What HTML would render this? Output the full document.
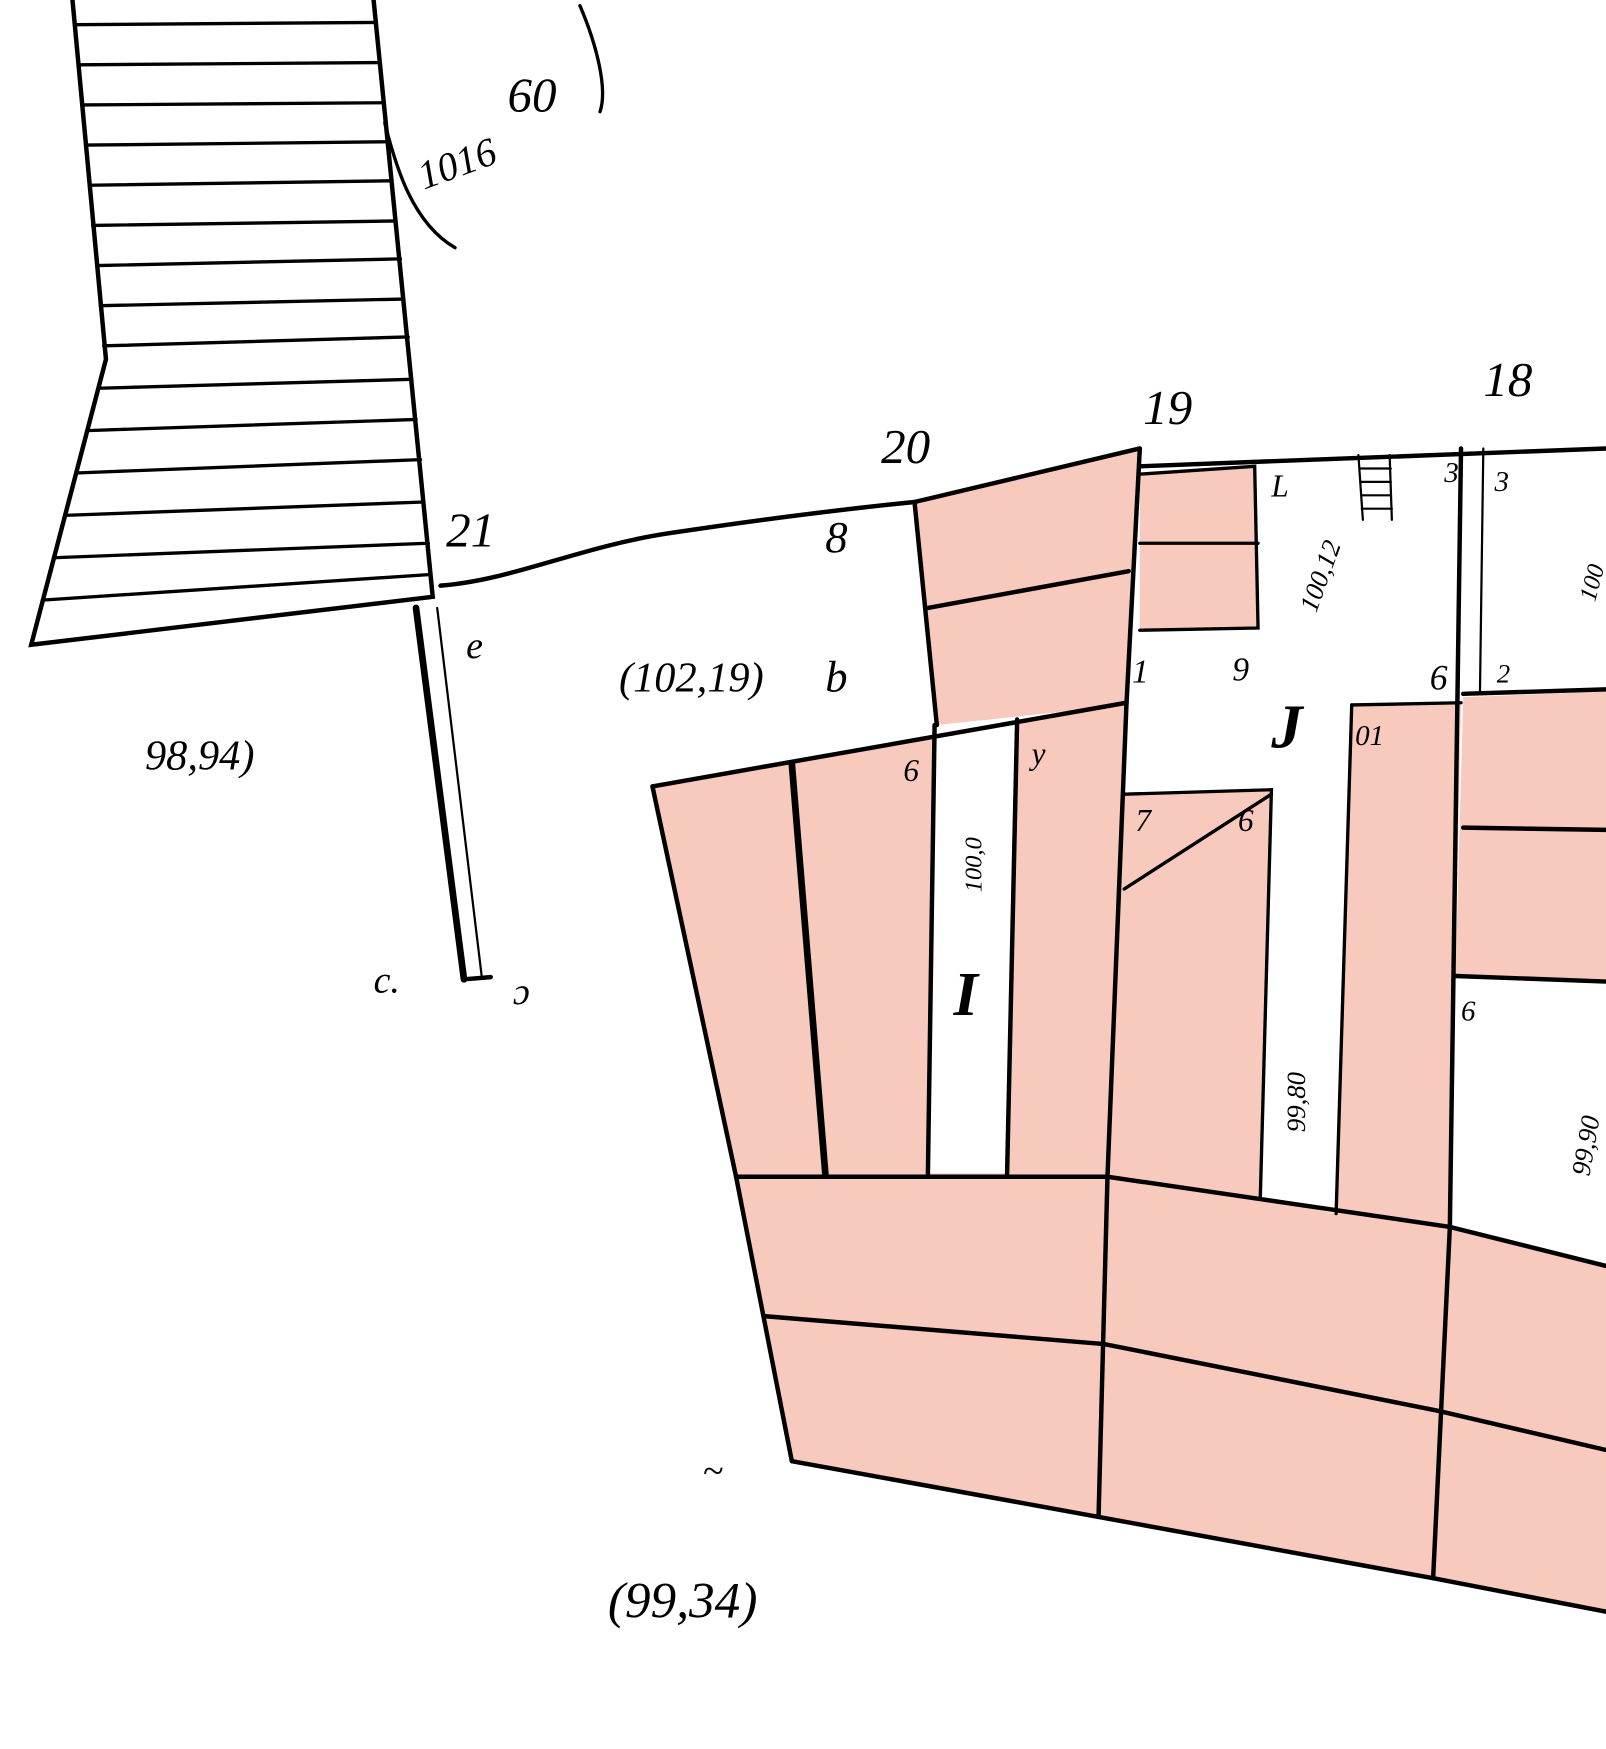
<!DOCTYPE html>
<html><head><meta charset="utf-8"><style>html,body{margin:0;padding:0;background:#fff}svg{display:block}text{font-family:"Liberation Serif",serif;font-style:italic;fill:#000}</style></head><body>
<svg width="1606" height="1749" viewBox="0 0 1440 1568" xmlns="http://www.w3.org/2000/svg">
<rect width="1440" height="1568" fill="#fff"/>
<g fill="#f7cabd" stroke="none">
<polygon points="820,450 1022,402 1010,632 840,650"/>
<polygon points="585,705 1010,630 993,1055 660,1055"/>
<polygon points="1022,425 1125,418 1128,563 1022,565"/>
<polygon points="1008,712 1140,708 1130,1075 993,1055"/>
<polygon points="1212,632 1310,630 1300,1100 1198,1088"/>
<polygon points="1312,625 1440,620 1440,880 1305,875"/>
<polygon points="660,1055 993,1055 1130,1075 1300,1100 1440,1135 1440,1445 1285,1415 985,1360 710,1310"/>
</g>
<g fill="#fff">
<polygon points="838,650 912,645 903,1052 832,1052"/>
<polygon points="1140,708 1205,632 1212,632 1198,1088 1130,1075"/>
</g>
<g stroke="#000" stroke-width="4" fill="none" stroke-linecap="round">
<polyline points="65,0 95,322 28,578 388,535 335,0"/>
<g stroke-width="3">
<line x1="68" y1="22" x2="337" y2="20"/><line x1="71" y1="58" x2="341" y2="56"/><line x1="74" y1="94" x2="344" y2="92"/><line x1="77" y1="130" x2="348" y2="127"/><line x1="80" y1="166" x2="351" y2="162"/><line x1="83" y1="202" x2="355" y2="198"/><line x1="87" y1="238" x2="359" y2="232"/><line x1="90" y1="274" x2="362" y2="268"/><line x1="93" y1="310" x2="366" y2="302"/><line x1="88" y1="348" x2="369" y2="340"/><line x1="78" y1="386" x2="373" y2="376"/><line x1="68" y1="424" x2="377" y2="412"/><line x1="58" y1="462" x2="380" y2="450"/><line x1="48" y1="500" x2="384" y2="487"/><line x1="38" y1="538" x2="386" y2="515"/>
</g>
<line x1="373" y1="545" x2="416" y2="878" stroke-width="6"/>
<line x1="392" y1="545" x2="432" y2="876" stroke-width="2"/>
<line x1="416" y1="878" x2="440" y2="876"/>
<path d="M395,525 C460,520 520,490 600,478 C680,466 760,456 820,450"/>
<line x1="820" y1="450" x2="1022" y2="402"/>
<line x1="1022" y1="418" x2="1440" y2="402"/>
<polyline points="820,450 840,650"/>
<line x1="832" y1="545" x2="1012" y2="512"/>
<polyline points="1022,402 1010,632 993,1055 985,1360"/>
<line x1="585" y1="705" x2="1010" y2="630"/>
<polyline points="585,705 660,1055 710,1310"/>
<line x1="710" y1="685" x2="740" y2="1052" stroke-width="6"/>
<line x1="838" y1="650" x2="832" y2="1052"/>
<line x1="912" y1="645" x2="903" y2="1052"/>
<polyline points="660,1055 993,1055 1130,1075 1300,1100 1440,1135"/>
<polyline points="685,1180 990,1205 1290,1265 1440,1300"/>
<polyline points="710,1310 985,1360 1285,1415 1440,1445"/>
<polyline points="1310,402 1300,1100 1285,1415"/>
<line x1="1330" y1="402" x2="1327" y2="620" stroke-width="2"/>
<line x1="1312" y1="622" x2="1440" y2="618"/>
<line x1="1312" y1="742" x2="1440" y2="744"/>
<line x1="1305" y1="875" x2="1440" y2="880"/>
<polyline points="1022,425 1125,418 1128,563 1022,565" stroke-width="3"/>
<line x1="1022" y1="487" x2="1128" y2="487" stroke-width="3"/>
<polyline points="1008,712 1140,708 1130,1075" stroke-width="3"/>
<line x1="1008" y1="797" x2="1140" y2="712" stroke-width="3"/>
<polyline points="1212,632 1310,630" stroke-width="3"/>
<line x1="1212" y1="632" x2="1198" y2="1088" stroke-width="3"/>
<g stroke-width="2"><line x1="1218" y1="408" x2="1222" y2="466"/><line x1="1246" y1="408" x2="1248" y2="466"/><line x1="1220" y1="420" x2="1247" y2="420"/><line x1="1220" y1="432" x2="1247" y2="432"/><line x1="1221" y1="444" x2="1247" y2="444"/><line x1="1221" y1="456" x2="1248" y2="456"/></g>
<path d="M345,110 C355,150 370,200 408,222" stroke-width="3"/>
<path d="M520,5 C535,40 545,80 538,100" stroke-width="3"/>
</g>
<g font-size="44">
<text x="400" y="490">21</text>
<text x="790" y="415">20</text>
<text x="1025" y="380">19</text>
<text x="1330" y="355">18</text>
<text x="555" y="620" font-size="38">(102,19)</text>
<text x="130" y="690" font-size="38">98,94)</text>
<text x="545" y="1450" font-size="46">(99,34)</text>
<text x="380" y="170" font-size="36" transform="rotate(-20 380 170)">1016</text>
<text x="455" y="100" font-size="44">60</text>
<text x="855" y="910" font-size="56" font-style="normal" font-weight="bold">I</text>
<text x="1140" y="670" font-size="56" font-style="normal" font-weight="bold">J</text>
<text x="1215" y="668" font-size="26">01</text>
<text x="810" y="700" font-size="28">6</text>
<text x="925" y="685" font-size="28">y</text>
<text x="1018" y="745" font-size="28">7</text>
<text x="1110" y="745" font-size="28">6</text>
<text x="1140" y="445" font-size="28">L</text>
<text x="1295" y="432" font-size="26">3</text>
<text x="1340" y="440" font-size="26">3</text>
<text x="1282" y="618" font-size="32">6</text>
<text x="1342" y="612" font-size="24">2</text>
<text x="1310" y="915" font-size="26">6</text>
<text x="418" y="590" font-size="34">e</text>
<text x="1105" y="610" font-size="30">9</text>
<text x="1015" y="612" font-size="30">1</text>
<text x="740" y="495" font-size="40">8</text>
<text x="740" y="620" font-size="40">b</text>
<text x="1180" y="550" font-size="24" transform="rotate(-70 1180 550)">100,12</text>
<text x="880" y="800" font-size="22" transform="rotate(-90 880 800)">100,0</text>
<text x="1170" y="1015" font-size="24" transform="rotate(-90 1170 1015)">99,80</text>
<text x="1425" y="1055" font-size="24" transform="rotate(-80 1425 1055)">99,90</text>
<text x="1430" y="540" font-size="22" transform="rotate(-75 1430 540)">100</text>
<text x="335" y="890" font-size="34">c.</text>
<text x="460" y="900" font-size="34">ɔ</text>
<text x="630" y="1330" font-size="34">~</text>
</g>
</svg>
</body></html>
